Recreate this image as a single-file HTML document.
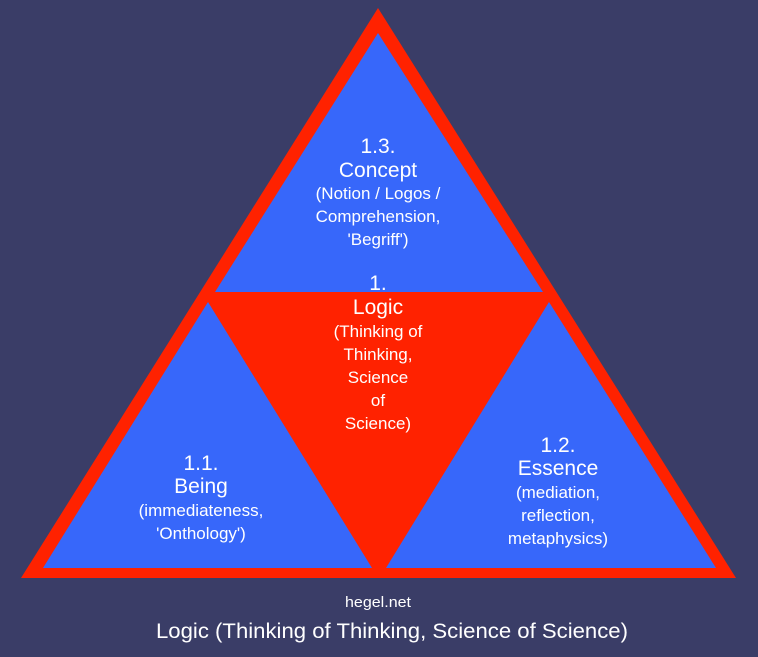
<!DOCTYPE html>
<html><head><style>
html,body{margin:0;padding:0;background:#3a3d67;}
svg{display:block}
text{font-family:"Liberation Sans",sans-serif;fill:#fff;text-anchor:middle}
.b{font-size:21px}.s{font-size:17px}
</style></head><body>
<svg width="758" height="657" viewBox="0 0 758 657">
<rect width="758" height="657" fill="#3a3d67"/>
<polygon points="378,8 736,578 21,578" fill="#ff2200"/>
<polygon points="378,33 543,292 215,292" fill="#3767fa"/>
<polygon points="208,302 372,568 43,568" fill="#3767fa"/>
<polygon points="549,302 716,568 386,568" fill="#3767fa"/>
<text class="b" x="378" y="153">1.3.</text>
<text class="b" x="378" y="177">Concept</text>
<text class="s" x="378" y="199">(Notion / Logos /</text>
<text class="s" x="378" y="222">Comprehension,</text>
<text class="s" x="378" y="245">'Begriff')</text>
<text class="b" x="378" y="290">1.</text>
<text class="b" x="378" y="314">Logic</text>
<text class="s" x="378" y="337">(Thinking of</text>
<text class="s" x="378" y="360">Thinking,</text>
<text class="s" x="378" y="383">Science</text>
<text class="s" x="378" y="406">of</text>
<text class="s" x="378" y="429">Science)</text>
<text class="b" x="201" y="470">1.1.</text>
<text class="b" x="201" y="493">Being</text>
<text class="s" x="201" y="516">(immediateness,</text>
<text class="s" x="201" y="539">'Onthology')</text>
<text class="b" x="558" y="452">1.2.</text>
<text class="b" x="558" y="475">Essence</text>
<text class="s" x="558" y="498">(mediation,</text>
<text class="s" x="558" y="521">reflection,</text>
<text class="s" x="558" y="544">metaphysics)</text>
<text x="378" y="607" style="font-size:15px" textLength="66" lengthAdjust="spacingAndGlyphs">hegel.net</text>
<text x="392" y="638" style="font-size:21px" textLength="472" lengthAdjust="spacingAndGlyphs">Logic (Thinking of Thinking, Science of Science)</text>
</svg>
</body></html>
